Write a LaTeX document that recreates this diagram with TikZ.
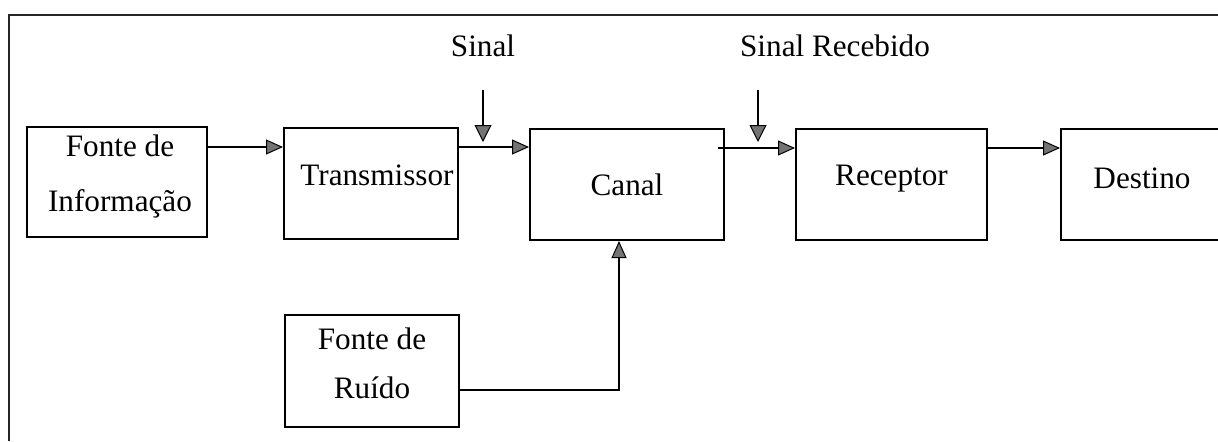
\documentclass[tikz,border=0pt]{standalone}
\usepackage{fontspec}
\setmainfont{Liberation Serif}
\usetikzlibrary{arrows.meta,calc}
\begin{document}
\begin{tikzpicture}[x=0.5pt,y=-0.5pt,
  font=\fontsize{15.6}{27.5}\selectfont,
  blk/.style={draw=black, line width=1pt, inner sep=0pt, align=center},
  txt/.style={align=center, inner sep=0pt},
  conn/.style={line width=0.9pt, -{Triangle[length=8.5pt,width=7.5pt,fill=black!55,line width=0.5pt]}},
  feed/.style={line width=0.8pt, -{Triangle[length=8.5pt,width=8.5pt,fill=black!55,line width=0.5pt]}},
  frame/.style={line width=1.1pt, draw=black!85}
]
\clip (0,0) rectangle (1218,441);
% frame
\coordinate (ftl) at (9,15);
\coordinate (ftr) at (1218,15);
\coordinate (fbl) at (9,441);
\draw[frame] (fbl) -- (ftl) -- (ftr);

% blocks
\node[blk, minimum width=90pt, minimum height=55pt,
  label={[txt,yshift=3pt,xshift=1.5pt]center:{Fonte de\\Informação}}] (info) at (117,182) {};
\node[blk, minimum width=87pt, minimum height=55.5pt,
  label={[txt,yshift=4pt,xshift=3pt]center:Transmissor}] (trans) at (371,183.5) {};
\node[blk, minimum width=97pt, minimum height=55.5pt,
  label={[txt]center:Canal}] (canal) at (627,184.5) {};
\node[blk, minimum width=95.5pt, minimum height=55.5pt,
  label={[txt,yshift=3pt]center:Receptor}] (rec) at (891.5,184.5) {};
\node[blk, minimum width=100pt, minimum height=55.5pt,
  label={[txt,yshift=3pt,xshift=-9.5pt]center:Destino}] (dest) at (1161,184.5) {};
\node[blk, minimum width=87pt, minimum height=56pt,
  label={[txt,yshift=4pt]center:{Fonte de\\[-3pt]Ruído}}] (ruido) at (372,371) {};

% labels
\node (sinal) at (483,46) {Sinal};
\node (sinalrec) at (835,46) {Sinal Recebido};
\coordinate (s1a) at (483,90);
\coordinate (s1b) at (483,142);
\coordinate (s2a) at (758,90);
\coordinate (s2b) at (758,142);

% connectors
\draw[conn] ([yshift=-10.5pt]info.north east) -- ([yshift=-10.5pt]info.north east -| trans.west);
\draw[conn] ([yshift=-10pt]trans.north east) -- ([yshift=-10pt]trans.north east -| canal.west);
\draw[conn] ([xshift=-3.5pt,yshift=-10pt]canal.north east) -- ([yshift=-10pt]canal.north east -| rec.west);
\draw[conn] ([yshift=-10pt]rec.north east) -- ([yshift=-10pt]rec.north east -| dest.west);
\draw[conn] (ruido.east |- 459,390) -- (619,390) -- (619,390 |- canal.south);
\draw[feed] (s1a) -- (s1b);
\draw[feed] (s2a) -- (s2b);
\end{tikzpicture}
\end{document}
